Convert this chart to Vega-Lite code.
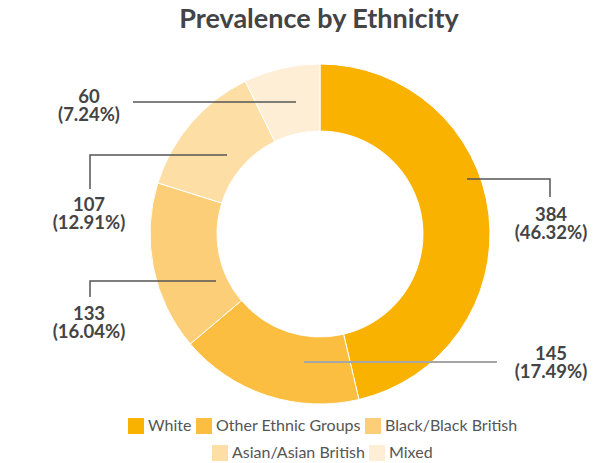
{
  "$schema": "https://vega.github.io/schema/vega-lite/v6.json",
  "width": 614,
  "height": 370,
  "autosize": {"type": "none"},
  "padding": {"top": 45, "bottom": 48, "left": 0, "right": 0},
  "background": "white",
  "title": {"text": "Prevalence by Ethnicity", "font": "Lato", "fontSize": 27, "fontWeight": "bold", "color": "#444444", "anchor": "middle", "offset": 11, "dx": 12},
  "config": {"view": {"stroke": null}, "font": "Lato"},
  "datasets": {
    "slices": [
      {"ethnicity": "White", "count": 384, "ord": 1},
      {"ethnicity": "Other Ethnic Groups", "count": 145, "ord": 2},
      {"ethnicity": "Black/Black British", "count": 133, "ord": 3},
      {"ethnicity": "Asian/Asian British", "count": 107, "ord": 4},
      {"ethnicity": "Mixed", "count": 60, "ord": 5}
    ],
    "labels": [
      {"ethnicity": "Mixed", "label": "60\n(7.24%)", "lx": -231, "ly": -137},
      {"ethnicity": "Asian/Asian British", "label": "107\n(12.91%)", "lx": -231, "ly": -29},
      {"ethnicity": "Black/Black British", "label": "133\n(16.04%)", "lx": -231, "ly": 80},
      {"ethnicity": "White", "label": "384\n(46.32%)", "lx": 231, "ly": -19},
      {"ethnicity": "Other Ethnic Groups", "label": "145\n(17.49%)", "lx": 231, "ly": 120}
    ],
    "connectors": [
      {"ethnicity": "Mixed", "i": 1, "cx": -187, "cy": -132},
      {"ethnicity": "Mixed", "i": 2, "cx": -24, "cy": -132},
      {"ethnicity": "Asian/Asian British", "i": 1, "cx": -230, "cy": -45},
      {"ethnicity": "Asian/Asian British", "i": 2, "cx": -230, "cy": -79},
      {"ethnicity": "Asian/Asian British", "i": 3, "cx": -93, "cy": -79},
      {"ethnicity": "Black/Black British", "i": 1, "cx": -230, "cy": 63},
      {"ethnicity": "Black/Black British", "i": 2, "cx": -230, "cy": 47},
      {"ethnicity": "Black/Black British", "i": 3, "cx": -104, "cy": 47},
      {"ethnicity": "White", "i": 1, "cx": 147, "cy": -55},
      {"ethnicity": "White", "i": 2, "cx": 230, "cy": -55},
      {"ethnicity": "White", "i": 3, "cx": 230, "cy": -37},
      {"ethnicity": "Other Ethnic Groups", "i": 1, "cx": -16, "cy": 128},
      {"ethnicity": "Other Ethnic Groups", "i": 2, "cx": 177, "cy": 128}
    ]
  },
  "layer": [
    {
      "data": {"name": "slices"},
      "mark": {"type": "arc", "radius": 170, "radius2": 103, "stroke": "white", "strokeWidth": 1},
      "encoding": {
        "theta": {"field": "count", "type": "quantitative", "stack": true},
        "order": {"field": "ord", "type": "quantitative"},
        "x": {"datum": 0, "type": "quantitative", "scale": {"domain": [-320, 294], "nice": false, "zero": false}, "axis": null},
        "y": {"datum": 0, "type": "quantitative", "scale": {"domain": [-189, 181], "reverse": true, "nice": false, "zero": false}, "axis": null},
        "color": {
          "field": "ethnicity", "type": "nominal",
          "scale": {"domain": ["White", "Other Ethnic Groups", "Black/Black British", "Asian/Asian British", "Mixed"], "range": ["#F9B200", "#FBBE40", "#FCCE78", "#FDDFA6", "#FEEED6"]},
          "legend": {"values": ["White", "Other Ethnic Groups", "Black/Black British"], "title": null, "orient": "none", "legendX": 128, "legendY": 373, "direction": "horizontal", "symbolType": "square", "symbolSize": 256, "symbolStrokeWidth": 0, "labelFont": "Lato", "labelFontSize": 16, "labelColor": "#555555", "labelOffset": 4, "columnPadding": 4, "padding": 0}
        }
      }
    },
    {
      "data": {"name": "slices"},
      "mark": {"type": "arc", "radius": 170, "radius2": 103, "stroke": "white", "strokeWidth": 1},
      "encoding": {
        "theta": {"field": "count", "type": "quantitative", "stack": true},
        "order": {"field": "ord", "type": "quantitative"},
        "x": {"datum": 0, "type": "quantitative"},
        "y": {"datum": 0, "type": "quantitative"},
        "color": {
          "field": "ethnicity", "type": "nominal",
          "scale": {"domain": ["White", "Other Ethnic Groups", "Black/Black British", "Asian/Asian British", "Mixed"], "range": ["#F9B200", "#FBBE40", "#FCCE78", "#FDDFA6", "#FEEED6"]},
          "legend": {"values": ["Asian/Asian British", "Mixed"], "title": null, "orient": "none", "legendX": 212, "legendY": 400, "direction": "horizontal", "symbolType": "square", "symbolSize": 256, "symbolStrokeWidth": 0, "labelFont": "Lato", "labelFontSize": 16, "labelColor": "#555555", "labelOffset": 4, "columnPadding": 4, "padding": 0}
        }
      }
    },
    {
      "data": {"name": "connectors"},
      "transform": [{"filter": "datum.ethnicity !== 'Other Ethnic Groups'"}],
      "mark": {"type": "line", "color": "#555555", "strokeWidth": 1.5},
      "encoding": {
        "x": {"field": "cx", "type": "quantitative"},
        "y": {"field": "cy", "type": "quantitative"},
        "detail": {"field": "ethnicity"},
        "order": {"field": "i", "type": "quantitative"}
      }
    },
    {
      "data": {"name": "connectors"},
      "transform": [{"filter": "datum.ethnicity === 'Other Ethnic Groups'"}],
      "mark": {"type": "line", "color": "#A6A6A6", "strokeWidth": 2},
      "encoding": {
        "x": {"field": "cx", "type": "quantitative"},
        "y": {"field": "cy", "type": "quantitative"},
        "detail": {"field": "ethnicity"},
        "order": {"field": "i", "type": "quantitative"}
      }
    },
    {
      "data": {"name": "labels"},
      "mark": {"type": "text", "lineBreak": "\n", "font": "Lato", "fontSize": 18.5, "fontWeight": "bold", "color": "#444444", "align": "center", "baseline": "middle", "lineHeight": 18},
      "encoding": {
        "x": {"field": "lx", "type": "quantitative"},
        "y": {"field": "ly", "type": "quantitative"},
        "text": {"field": "label"}
      }
    }
  ],
  "resolve": {"scale": {"color": "independent"}, "legend": {"color": "independent"}}
}
